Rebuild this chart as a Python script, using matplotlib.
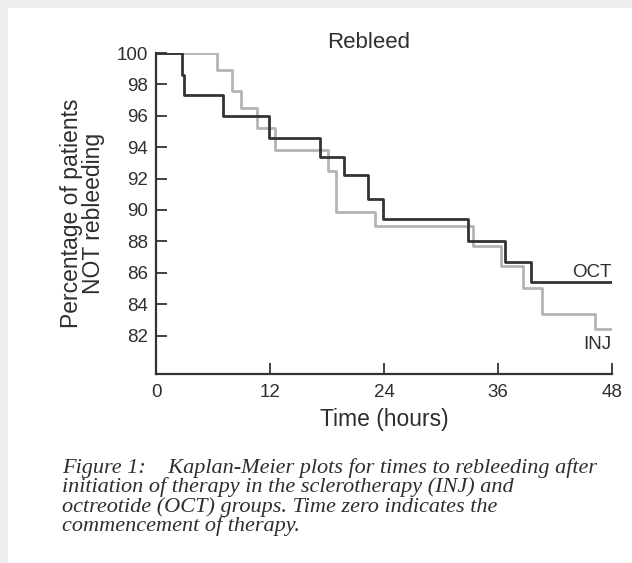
########################
## Kaplan-Meier rebleed plot
########################

import matplotlib
matplotlib.use("Agg")
import matplotlib.pyplot as plt
from matplotlib.patches import Rectangle

# OCT group (dark line): step times (hours) and % not rebleeding
oct_times = [0, 2.7, 2.9, 7.0, 11.9, 17.3, 19.8, 22.3, 23.9, 32.8, 36.7, 39.5, 48]
oct_pct = [100, 98.6, 97.3, 96.0, 94.6, 93.4, 92.2, 90.7, 89.4, 88.0, 86.7, 85.4, 85.4]

# INJ group (light line)
inj_times = [0, 6.4, 8.0, 8.9, 10.6, 12.5, 18.1, 18.9, 23.0, 33.4, 36.3, 38.6, 40.6, 46.2, 48]
inj_pct = [100, 98.9, 97.6, 96.5, 95.2, 93.8, 92.5, 89.9, 89.0, 87.7, 86.4, 85.0, 83.4, 82.4, 82.4]

x_ticks = [0, 12, 24, 36, 48]
y_ticks = [82, 84, 86, 88, 90, 92, 94, 96, 98, 100]

caption_lines = [
    "Figure 1:    Kaplan-Meier plots for times to rebleeding after",
    "initiation of therapy in the sclerotherapy (INJ) and",
    "octreotide (OCT) groups. Time zero indicates the",
    "commencement of therapy.",
]

plt.rcParams['font.family'] = ['Liberation Sans', 'DejaVu Sans']
txt = '#2e2e2e'

fig = plt.figure(figsize=(6.32, 5.63), dpi=100, facecolor='#ededed')
# white page area (light shadow on top and left edges)
fig.patches.append(Rectangle((8 / 632, 0), 1, 1 - 8 / 563, transform=fig.transFigure,
                             facecolor='white', edgecolor='none', zorder=-1))

ax = fig.add_axes([156 / 632, 1 - 374 / 563, 456 / 632, 321 / 563])
ax.set_facecolor('none')

ax.plot(inj_times, inj_pct, drawstyle='steps-post', color='#b4b4b4', lw=2.0)
ax.plot(oct_times, oct_pct, drawstyle='steps-post', color='#333333', lw=2.0)

ax.set_xlim(0, 48)
ax.set_ylim(79.55, 100)
ax.set_xticks(x_ticks)
ax.set_yticks(y_ticks)

for side in ['top', 'right']:
    ax.spines[side].set_visible(False)
for side in ['left', 'bottom']:
    ax.spines[side].set_linewidth(1.6)
    ax.spines[side].set_color('#333333')

ax.tick_params(direction='in', length=8, width=1.3, colors='#333333',
               labelsize=13.5, labelcolor=txt)
ax.tick_params(axis='x', pad=7)
ax.tick_params(axis='y', pad=6)

ax.text(47.9, 85.5, "OCT", ha='right', va='bottom', fontsize=13.5, color=txt)
ax.text(47.9, 81.4, "INJ", ha='right', va='center', fontsize=13.5, color=txt)

ax.set_xlabel("Time (hours)", fontsize=16.5, color=txt, labelpad=5)
ax.set_ylabel("Percentage of patients\nNOT rebleeding", fontsize=16.5, color=txt,
              linespacing=0.95, labelpad=8)
fig.text(369 / 632, 1 - 42 / 563, "Rebleed", ha='center', va='center',
         fontsize=16, color=txt)

# caption in italic serif
for i, line in enumerate(caption_lines):
    fig.text(62 / 632, 1 - (468 + 19.5 * i) / 563, line, ha='left', va='center',
             fontsize=16, style='italic', family='Liberation Serif', color=txt)

fig.savefig("out.png", dpi=100, facecolor=fig.get_facecolor())
